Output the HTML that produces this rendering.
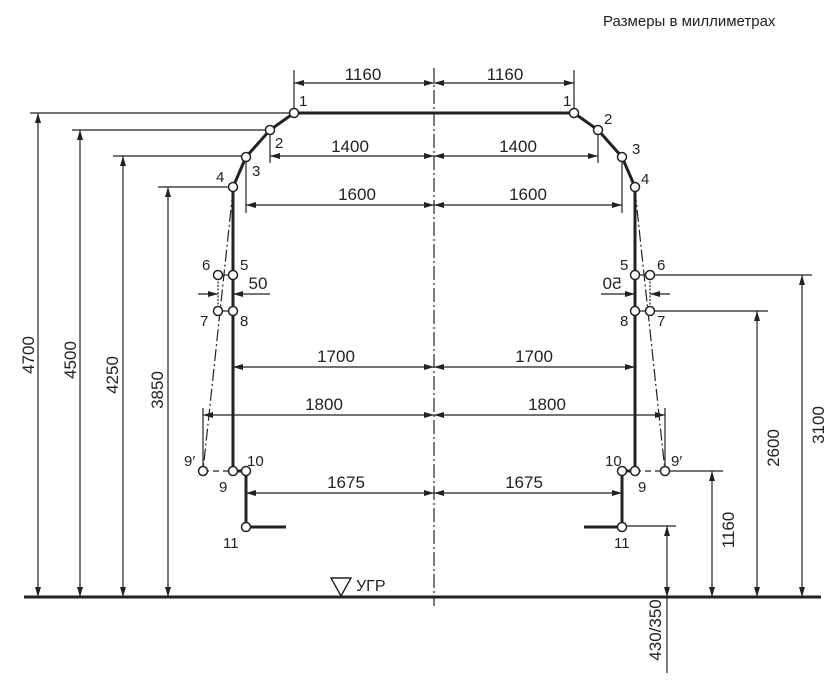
<!DOCTYPE html>
<html><head><meta charset="utf-8"><style>
html,body{margin:0;padding:0;background:#fff;}
svg{display:block;}
text{font-family:"Liberation Sans",sans-serif;fill:#222;}
</style></head><body>
<svg width="840" height="684" viewBox="0 0 840 684" xmlns="http://www.w3.org/2000/svg">
<defs>
<marker id="a" viewBox="0 0 10 6" refX="10" refY="3" markerWidth="10" markerHeight="6" markerUnits="userSpaceOnUse" orient="auto-start-reverse"><path d="M0,0 L10,3 L0,6 z" fill="#222"/></marker>
</defs>
<text x="603" y="26" font-size="15">Размеры в миллиметрах</text>
<line x1="434" y1="68" x2="434" y2="606" stroke="#222" stroke-width="1.2" stroke-dasharray="14,3,2,3"/>
<line x1="24" y1="597" x2="821" y2="597" stroke="#222" stroke-width="3"/>
<path d="M331,578 L351,578 L341,596 z" fill="none" stroke="#222" stroke-width="1.4"/>
<text x="356" y="591" font-size="16">УГР</text>

<g stroke="#222" stroke-width="1.2" fill="none">
<line x1="30" y1="113" x2="294" y2="113"/>
<line x1="72" y1="130" x2="270" y2="130"/>
<line x1="113" y1="156" x2="246" y2="156"/>
<line x1="158" y1="187" x2="233" y2="187"/>
<line x1="38" y1="113" x2="38" y2="597" marker-start="url(#a)" marker-end="url(#a)"/>
<line x1="80" y1="130" x2="80" y2="597" marker-start="url(#a)" marker-end="url(#a)"/>
<line x1="123" y1="156" x2="123" y2="597" marker-start="url(#a)" marker-end="url(#a)"/>
<line x1="168" y1="187" x2="168" y2="597" marker-start="url(#a)" marker-end="url(#a)"/>
<line x1="650" y1="275" x2="812" y2="275"/>
<line x1="650" y1="311" x2="768" y2="311"/>
<line x1="667" y1="471" x2="723" y2="471"/>
<line x1="624" y1="526" x2="676" y2="526"/>
<line x1="802" y1="275" x2="802" y2="597" marker-start="url(#a)" marker-end="url(#a)"/>
<line x1="757" y1="311" x2="757" y2="597" marker-start="url(#a)" marker-end="url(#a)"/>
<line x1="712" y1="471" x2="712" y2="597" marker-start="url(#a)" marker-end="url(#a)"/>
<line x1="667" y1="526" x2="667" y2="597" marker-start="url(#a)" marker-end="url(#a)"/>
<line x1="667" y1="597" x2="667" y2="673"/>
<line x1="294" y1="70" x2="294" y2="113"/>
<line x1="574" y1="70" x2="574" y2="113"/>
<line x1="294" y1="83" x2="434" y2="83" marker-start="url(#a)" marker-end="url(#a)"/>
<line x1="434" y1="83" x2="574" y2="83" marker-start="url(#a)" marker-end="url(#a)"/>
<line x1="270" y1="130" x2="270" y2="163"/>
<line x1="598" y1="130" x2="598" y2="163"/>
<line x1="270" y1="156" x2="434" y2="156" marker-start="url(#a)" marker-end="url(#a)"/>
<line x1="434" y1="156" x2="598" y2="156" marker-start="url(#a)" marker-end="url(#a)"/>
<line x1="246" y1="157" x2="246" y2="213"/>
<line x1="622" y1="157" x2="622" y2="213"/>
<line x1="246" y1="205" x2="434" y2="205" marker-start="url(#a)" marker-end="url(#a)"/>
<line x1="434" y1="205" x2="622" y2="205" marker-start="url(#a)" marker-end="url(#a)"/>
<line x1="233" y1="367" x2="434" y2="367" marker-start="url(#a)" marker-end="url(#a)"/>
<line x1="434" y1="367" x2="635" y2="367" marker-start="url(#a)" marker-end="url(#a)"/>
<line x1="203" y1="408" x2="203" y2="468"/>
<line x1="665" y1="408" x2="665" y2="468"/>
<line x1="203" y1="415" x2="434" y2="415" marker-start="url(#a)" marker-end="url(#a)"/>
<line x1="434" y1="415" x2="665" y2="415" marker-start="url(#a)" marker-end="url(#a)"/>
<line x1="246" y1="493" x2="434" y2="493" marker-start="url(#a)" marker-end="url(#a)"/>
<line x1="434" y1="493" x2="622" y2="493" marker-start="url(#a)" marker-end="url(#a)"/>
<line x1="198" y1="294" x2="218" y2="294" marker-end="url(#a)"/>
<line x1="270" y1="294" x2="233" y2="294" marker-end="url(#a)"/>
<line x1="601" y1="294" x2="635" y2="294" marker-end="url(#a)"/>
<line x1="670" y1="294" x2="650" y2="294" marker-end="url(#a)"/>
<path d="M233,190 L203,471" stroke-dasharray="12,3,2,3"/>
<path d="M635,190 L665,471" stroke-dasharray="12,3,2,3"/>
<line x1="218" y1="278" x2="218" y2="308" stroke-dasharray="2,1.5"/>
<line x1="650" y1="278" x2="650" y2="308" stroke-dasharray="2,1.5"/>
<line x1="203" y1="471" x2="233" y2="471" stroke-dasharray="6,4"/>
<line x1="635" y1="471" x2="665" y2="471" stroke-dasharray="6,4"/>
<line x1="218" y1="275" x2="233" y2="275"/><line x1="218" y1="311" x2="233" y2="311"/>
<line x1="635" y1="275" x2="650" y2="275"/><line x1="635" y1="311" x2="650" y2="311"/>
</g>
<g stroke="#222" stroke-width="3" fill="none">
<path d="M286,527 L246,527 L246,471 L233,471 L233,187 L246,157 L270,130 L294,113 L574,113 L598,130 L622,157 L635,187 L635,471 L622,471 L622,527 L584,527"/>
</g>
<g stroke="#222" stroke-width="1.5" fill="#fff">
<circle cx="294" cy="113" r="4.5"/><circle cx="270" cy="130" r="4.5"/><circle cx="246" cy="157" r="4.5"/><circle cx="233" cy="187" r="4.5"/>
<circle cx="233" cy="275" r="4.5"/><circle cx="218" cy="275" r="4.5"/><circle cx="218" cy="311" r="4.5"/><circle cx="233" cy="311" r="4.5"/>
<circle cx="233" cy="471" r="4.5"/><circle cx="203" cy="471" r="4.5"/><circle cx="246" cy="471" r="4.5"/><circle cx="246" cy="527" r="4.5"/>
<circle cx="574" cy="113" r="4.5"/><circle cx="598" cy="130" r="4.5"/><circle cx="622" cy="157" r="4.5"/><circle cx="635" cy="187" r="4.5"/>
<circle cx="635" cy="275" r="4.5"/><circle cx="650" cy="275" r="4.5"/><circle cx="650" cy="311" r="4.5"/><circle cx="635" cy="311" r="4.5"/>
<circle cx="635" cy="471" r="4.5"/><circle cx="665" cy="471" r="4.5"/><circle cx="622" cy="471" r="4.5"/><circle cx="622" cy="527" r="4.5"/>
</g>
<g font-size="17" text-anchor="middle">
<text x="363" y="80">1160</text><text x="505" y="80">1160</text>
<text x="350" y="152">1400</text><text x="518" y="152">1400</text>
<text x="357" y="200">1600</text><text x="528" y="200">1600</text>
<text x="336" y="362">1700</text><text x="534" y="362">1700</text>
<text x="324" y="410">1800</text><text x="547" y="410">1800</text>
<text x="346" y="488">1675</text><text x="524" y="488">1675</text>
<text x="258" y="289">50</text>
<text transform="translate(612,289) scale(-1,1)">50</text>
<text transform="translate(34,355) rotate(-90)">4700</text>
<text transform="translate(76,360) rotate(-90)">4500</text>
<text transform="translate(118,375) rotate(-90)">4250</text>
<text transform="translate(163,390) rotate(-90)">3850</text>
<text transform="translate(824,425) rotate(-90)">3100</text>
<text transform="translate(779,448) rotate(-90)">2600</text>
<text transform="translate(734,530) rotate(-90)">1160</text>
<text transform="translate(661,630) rotate(-90)">430/350</text>
</g>
<g font-size="15">
<text x="299" y="106">1</text><text x="275" y="148">2</text><text x="252" y="176">3</text><text x="216" y="182">4</text>
<text x="240" y="270">5</text><text x="202" y="270">6</text><text x="200" y="326">7</text><text x="240" y="326">8</text>
<text x="219" y="492">9</text><text x="184" y="466">9′</text><text x="247" y="466">10</text><text x="223" y="548">11</text>
<text x="563" y="106">1</text><text x="604" y="124">2</text><text x="632" y="154">3</text><text x="641" y="184">4</text>
<text x="620" y="270">5</text><text x="657" y="270">6</text><text x="657" y="326">7</text><text x="620" y="326">8</text>
<text x="638" y="492">9</text><text x="671" y="466">9′</text><text x="605" y="466">10</text><text x="614" y="548">11</text>
</g>
</svg>
</body></html>
